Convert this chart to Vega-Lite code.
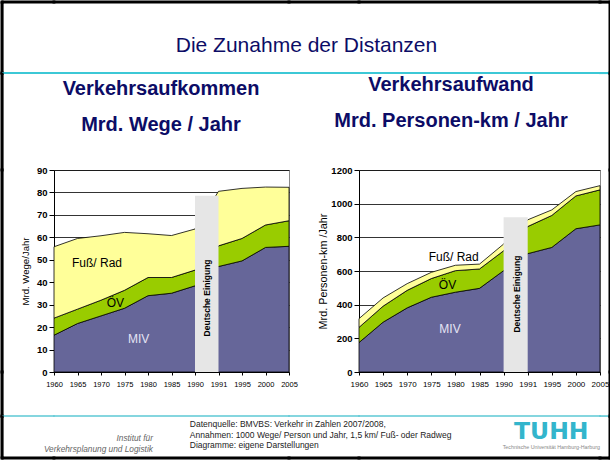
{
  "$schema": "https://vega.github.io/schema/vega-lite/v6.json",
  "padding": 0,
  "background": "white",
  "bounds": "flush",
  "align": "each",
  "columns": 7,
  "spacing": {"row": 0, "column": 0},
  "config": {
    "font": "Liberation Sans",
    "view": {"stroke": "#888888", "strokeWidth": 1},
    "axis": {"domainColor": "black", "tickColor": "black", "labelColor": "black", "titleColor": "black", "gridColor": "black", "gridWidth": 0.8, "domainWidth": 1, "labelOverlap": false}
  },
  "datasets": {
    "wege": [
      {"year": "1960", "series": "MIV", "rank": 1, "value": 16.4},
      {"year": "1960", "series": "ÖV", "rank": 2, "value": 7.6},
      {"year": "1960", "series": "Fuß/ Rad", "rank": 3, "value": 31.8},
      {"year": "1965", "series": "MIV", "rank": 1, "value": 21.6},
      {"year": "1965", "series": "ÖV", "rank": 2, "value": 6.4},
      {"year": "1965", "series": "Fuß/ Rad", "rank": 3, "value": 31.5},
      {"year": "1970", "series": "MIV", "rank": 1, "value": 25.0},
      {"year": "1970", "series": "ÖV", "rank": 2, "value": 7.0},
      {"year": "1970", "series": "Fuß/ Rad", "rank": 3, "value": 28.7},
      {"year": "1975", "series": "MIV", "rank": 1, "value": 28.4},
      {"year": "1975", "series": "ÖV", "rank": 2, "value": 8.0},
      {"year": "1975", "series": "Fuß/ Rad", "rank": 3, "value": 25.8},
      {"year": "1980", "series": "MIV", "rank": 1, "value": 34.0},
      {"year": "1980", "series": "ÖV", "rank": 2, "value": 8.1},
      {"year": "1980", "series": "Fuß/ Rad", "rank": 3, "value": 19.5},
      {"year": "1985", "series": "MIV", "rank": 1, "value": 35.1},
      {"year": "1985", "series": "ÖV", "rank": 2, "value": 7.0},
      {"year": "1985", "series": "Fuß/ Rad", "rank": 3, "value": 18.7},
      {"year": "1990", "series": "MIV", "rank": 1, "value": 38.4},
      {"year": "1990", "series": "ÖV", "rank": 2, "value": 7.0},
      {"year": "1990", "series": "Fuß/ Rad", "rank": 3, "value": 18.3},
      {"year": "1991", "series": "MIV", "rank": 1, "value": 47.0},
      {"year": "1991", "series": "ÖV", "rank": 2, "value": 9.2},
      {"year": "1991", "series": "Fuß/ Rad", "rank": 3, "value": 24.3},
      {"year": "1995", "series": "MIV", "rank": 1, "value": 49.5},
      {"year": "1995", "series": "ÖV", "rank": 2, "value": 10.0},
      {"year": "1995", "series": "Fuß/ Rad", "rank": 3, "value": 22.3},
      {"year": "2000", "series": "MIV", "rank": 1, "value": 55.5},
      {"year": "2000", "series": "ÖV", "rank": 2, "value": 10.0},
      {"year": "2000", "series": "Fuß/ Rad", "rank": 3, "value": 16.9},
      {"year": "2005", "series": "MIV", "rank": 1, "value": 56.0},
      {"year": "2005", "series": "ÖV", "rank": 2, "value": 11.4},
      {"year": "2005", "series": "Fuß/ Rad", "rank": 3, "value": 14.9}
    ],
    "pkm": [
      {"year": "1960", "series": "MIV", "rank": 1, "value": 175},
      {"year": "1960", "series": "ÖV", "rank": 2, "value": 90},
      {"year": "1960", "series": "Fuß/ Rad", "rank": 3, "value": 52},
      {"year": "1965", "series": "MIV", "rank": 1, "value": 296},
      {"year": "1965", "series": "ÖV", "rank": 2, "value": 95},
      {"year": "1965", "series": "Fuß/ Rad", "rank": 3, "value": 49},
      {"year": "1970", "series": "MIV", "rank": 1, "value": 381},
      {"year": "1970", "series": "ÖV", "rank": 2, "value": 104},
      {"year": "1970", "series": "Fuß/ Rad", "rank": 3, "value": 40},
      {"year": "1975", "series": "MIV", "rank": 1, "value": 444},
      {"year": "1975", "series": "ÖV", "rank": 2, "value": 111},
      {"year": "1975", "series": "Fuß/ Rad", "rank": 3, "value": 37},
      {"year": "1980", "series": "MIV", "rank": 1, "value": 474},
      {"year": "1980", "series": "ÖV", "rank": 2, "value": 128},
      {"year": "1980", "series": "Fuß/ Rad", "rank": 3, "value": 32},
      {"year": "1985", "series": "MIV", "rank": 1, "value": 497},
      {"year": "1985", "series": "ÖV", "rank": 2, "value": 115},
      {"year": "1985", "series": "Fuß/ Rad", "rank": 3, "value": 29},
      {"year": "1990", "series": "MIV", "rank": 1, "value": 602},
      {"year": "1990", "series": "ÖV", "rank": 2, "value": 118},
      {"year": "1990", "series": "Fuß/ Rad", "rank": 3, "value": 40},
      {"year": "1991", "series": "MIV", "rank": 1, "value": 703},
      {"year": "1991", "series": "ÖV", "rank": 2, "value": 161},
      {"year": "1991", "series": "Fuß/ Rad", "rank": 3, "value": 40},
      {"year": "1995", "series": "MIV", "rank": 1, "value": 740},
      {"year": "1995", "series": "ÖV", "rank": 2, "value": 190},
      {"year": "1995", "series": "Fuß/ Rad", "rank": 3, "value": 33},
      {"year": "2000", "series": "MIV", "rank": 1, "value": 851},
      {"year": "2000", "series": "ÖV", "rank": 2, "value": 195},
      {"year": "2000", "series": "Fuß/ Rad", "rank": 3, "value": 26},
      {"year": "2005", "series": "MIV", "rank": 1, "value": 874},
      {"year": "2005", "series": "ÖV", "rank": 2, "value": 208},
      {"year": "2005", "series": "Fuß/ Rad", "rank": 3, "value": 25}
    ]
  },
  "concat": [
    {"width": 0.1, "height": 0.1, "view": {"stroke": "black", "strokeWidth": 3}, "data": {"values": []}, "mark": "text"},
    {"width": 50.9, "height": 0.1, "view": {"stroke": "black", "strokeWidth": 3}, "data": {"values": []}, "mark": "text"},
    {"width": 235, "height": 0.1, "view": {"stroke": "black", "strokeWidth": 3}, "data": {"values": []}, "mark": "text"},
    {"width": 70, "height": 0.1, "view": {"stroke": "black", "strokeWidth": 3}, "data": {"values": []}, "mark": "text"},
    {"width": 241, "height": 0.1, "view": {"stroke": "black", "strokeWidth": 3}, "data": {"values": []}, "mark": "text"},
    {"width": 9.4, "height": 0.1, "view": {"stroke": "black", "strokeWidth": 3}, "data": {"values": []}, "mark": "text"},
    {"width": 0.1, "height": 0.1, "view": {"stroke": "black", "strokeWidth": 3}, "data": {"values": []}, "mark": "text"},

    {"width": 0.1, "height": 69.9, "view": {"stroke": "black", "strokeWidth": 3}, "data": {"values": []}, "mark": "text"},
    {"width": 50.9, "height": 69.9, "view": {"stroke": null}, "data": {"values": []}, "mark": "text"},
    {"width": 235, "height": 69.9, "view": {"stroke": null}, "data": {"values": []}, "mark": "text"},
    {"width": 70, "height": 69.9, "view": {"stroke": null}, "data": {"values": []}, "mark": "text",
      "title": {"text": "Die Zunahme der Distanzen", "orient": "bottom", "anchor": "middle", "frame": "group", "dx": -17.5, "offset": -37.8, "baseline": "top", "font": "Liberation Sans", "fontSize": 21, "fontWeight": "normal", "color": "#0c0c66"}},
    {"width": 241, "height": 69.9, "view": {"stroke": null}, "data": {"values": []}, "mark": "text"},
    {"width": 9.4, "height": 69.9, "view": {"stroke": null}, "data": {"values": []}, "mark": "text"},
    {"width": 0.1, "height": 69.9, "view": {"stroke": "black", "strokeWidth": 3}, "data": {"values": []}, "mark": "text"},

    {"width": 0.1, "height": 0.1, "view": {"stroke": "black", "strokeWidth": 3}, "data": {"values": []}, "mark": "text"},
    {"width": 50.9, "height": 0.1, "view": {"stroke": "#3cc8d6", "strokeWidth": 2}, "data": {"values": []}, "mark": "text"},
    {"width": 235, "height": 0.1, "view": {"stroke": "#3cc8d6", "strokeWidth": 2}, "data": {"values": []}, "mark": "text"},
    {"width": 70, "height": 0.1, "view": {"stroke": "#3cc8d6", "strokeWidth": 2}, "data": {"values": []}, "mark": "text"},
    {"width": 241, "height": 0.1, "view": {"stroke": "#3cc8d6", "strokeWidth": 2}, "data": {"values": []}, "mark": "text"},
    {"width": 9.4, "height": 0.1, "view": {"stroke": "#3cc8d6", "strokeWidth": 2}, "data": {"values": []}, "mark": "text"},
    {"width": 0.1, "height": 0.1, "view": {"stroke": "black", "strokeWidth": 3}, "data": {"values": []}, "mark": "text"},

    {"width": 0.1, "height": 95.9, "view": {"stroke": "black", "strokeWidth": 3}, "data": {"values": []}, "mark": "text"},
    {"width": 50.9, "height": 95.9, "view": {"stroke": null}, "data": {"values": []}, "mark": "text"},
    {"width": 235, "height": 95.9, "view": {"stroke": null}, "data": {"values": []}, "mark": "text"},
    {"width": 70, "height": 95.9, "view": {"stroke": null}, "data": {"values": []}, "mark": "text"},
    {"width": 241, "height": 95.9, "view": {"stroke": null}, "data": {"values": []}, "mark": "text"},
    {"width": 9.4, "height": 95.9, "view": {"stroke": null}, "data": {"values": []}, "mark": "text"},
    {"width": 0.1, "height": 95.9, "view": {"stroke": "black", "strokeWidth": 3}, "data": {"values": []}, "mark": "text"},

    {"width": 0.1, "height": 202, "view": {"stroke": "black", "strokeWidth": 3}, "data": {"values": []}, "mark": "text"},
    {"width": 50.9, "height": 202, "view": {"stroke": null}, "data": {"values": []}, "mark": "text"},
    {
      "width": 235,
      "height": 202,
      "title": {"text": ["Verkehrsaufkommen", "Mrd. Wege / Jahr"], "fontSize": 20, "fontWeight": "bold", "color": "#0c0c66", "anchor": "middle", "frame": "group", "dx": -10.5, "lineHeight": 36.3, "baseline": "bottom", "offset": 10.2},
      "layer": [
        {
          "data": {"name": "wege"},
          "mark": {"type": "area", "stroke": "black", "strokeWidth": 0.8, "opacity": 1},
          "encoding": {
            "x": {"field": "year", "type": "ordinal", "scale": {"type": "point", "padding": 0},
              "axis": {"title": null, "labelAngle": 0, "labelFontSize": 7.5, "tickSize": 3, "labelPadding": 5, "grid": false}},
            "y": {"field": "value", "type": "quantitative", "stack": "zero", "scale": {"domain": [0, 90], "nice": false},
              "axis": {"values": [0, 10, 20, 30, 40, 50, 60, 70, 80, 90], "tickCount": 10, "title": "Mrd. Wege/Jahr", "titleFontSize": 9.6, "titleFontWeight": "normal", "titlePadding": 5.5, "labelFontSize": 9.5, "labelFontWeight": "bold", "labelPadding": 2, "tickSize": 5, "grid": true}},
            "color": {"field": "series", "type": "nominal", "scale": {"domain": ["MIV", "ÖV", "Fuß/ Rad"], "range": ["#666699", "#99cc00", "#ffff99"]}, "legend": null},
            "order": {"field": "rank", "type": "quantitative"}
          }
        },
        {
          "data": {"values": [{"from": "1990", "to": "1991", "base": 0, "top": 78.5, "mid": 33, "label": "Deutsche Einigung"}]},
          "layer": [
            {
              "mark": {"type": "rect", "color": "#e6e6e6"},
              "encoding": {"x": {"field": "from", "type": "ordinal"}, "x2": {"field": "to"}, "y": {"field": "base", "type": "quantitative"}, "y2": {"field": "top"}}
            },
            {
              "mark": {"type": "text", "angle": 270, "fontSize": 8.5, "fontWeight": "bold", "color": "black", "align": "center", "baseline": "middle", "dy": 11.75},
              "encoding": {"x": {"field": "from", "type": "ordinal"}, "y": {"field": "mid", "type": "quantitative"}, "text": {"field": "label"}}
            }
          ]
        },
        {
          "data": {"values": [{"year": "1970", "value": 48.6, "label": "Fuß/ Rad"}]},
          "mark": {"type": "text", "fontSize": 12, "color": "black", "align": "center", "baseline": "middle", "dx": -4},
          "encoding": {"x": {"field": "year", "type": "ordinal"}, "y": {"field": "value", "type": "quantitative"}, "text": {"field": "label"}}
        },
        {
          "data": {"values": [{"year": "1970", "value": 30.7, "label": "ÖV"}]},
          "mark": {"type": "text", "fontSize": 12, "color": "black", "align": "center", "baseline": "middle", "dx": 14.3},
          "encoding": {"x": {"field": "year", "type": "ordinal"}, "y": {"field": "value", "type": "quantitative"}, "text": {"field": "label"}}
        },
        {
          "data": {"values": [{"year": "1975", "value": 14.7, "label": "MIV"}]},
          "mark": {"type": "text", "fontSize": 12, "color": "#e4e4f4", "align": "center", "baseline": "middle", "dx": 14.2},
          "encoding": {"x": {"field": "year", "type": "ordinal"}, "y": {"field": "value", "type": "quantitative"}, "text": {"field": "label"}}
        }
      ]
    },
    {"width": 70, "height": 202, "view": {"stroke": null}, "data": {"values": []}, "mark": "text"},
    {
      "width": 241,
      "height": 202,
      "title": {"text": ["Verkehrsaufwand", "Mrd. Personen-km / Jahr"], "fontSize": 20, "fontWeight": "bold", "color": "#0c0c66", "anchor": "middle", "frame": "group", "dx": -28.5, "lineHeight": 36.6, "baseline": "bottom", "offset": 13.8},
      "layer": [
        {
          "data": {"name": "pkm"},
          "mark": {"type": "area", "stroke": "black", "strokeWidth": 0.8, "opacity": 1},
          "encoding": {
            "x": {"field": "year", "type": "ordinal", "scale": {"type": "point", "padding": 0},
              "axis": {"title": null, "labelAngle": 0, "labelFontSize": 8, "tickSize": 3, "labelPadding": 5, "grid": false}},
            "y": {"field": "value", "type": "quantitative", "stack": "zero", "scale": {"domain": [0, 1200], "nice": false},
              "axis": {"values": [0, 200, 400, 600, 800, 1000, 1200], "tickCount": 7, "format": "d", "title": "Mrd. Personen-km /Jahr", "titleFontSize": 10.8, "titleFontWeight": "normal", "titlePadding": 2, "labelFontSize": 9.5, "labelFontWeight": "bold", "labelPadding": 2, "tickSize": 5, "grid": true}},
            "color": {"field": "series", "type": "nominal", "scale": {"domain": ["MIV", "ÖV", "Fuß/ Rad"], "range": ["#666699", "#99cc00", "#ffff99"]}, "legend": null},
            "order": {"field": "rank", "type": "quantitative"}
          }
        },
        {
          "data": {"values": [{"from": "1990", "to": "1991", "base": 0, "top": 920, "mid": 463, "label": "Deutsche Einigung"}]},
          "layer": [
            {
              "mark": {"type": "rect", "color": "#e6e6e6"},
              "encoding": {"x": {"field": "from", "type": "ordinal"}, "x2": {"field": "to"}, "y": {"field": "base", "type": "quantitative"}, "y2": {"field": "top"}}
            },
            {
              "mark": {"type": "text", "angle": 270, "fontSize": 8.5, "fontWeight": "bold", "color": "black", "align": "center", "baseline": "middle", "dy": 13.5},
              "encoding": {"x": {"field": "from", "type": "ordinal"}, "y": {"field": "mid", "type": "quantitative"}, "text": {"field": "label"}}
            }
          ]
        },
        {
          "data": {"values": [{"year": "1980", "value": 681, "label": "Fuß/ Rad"}]},
          "mark": {"type": "text", "fontSize": 12, "color": "black", "align": "center", "baseline": "middle", "dx": -1.7},
          "encoding": {"x": {"field": "year", "type": "ordinal"}, "y": {"field": "value", "type": "quantitative"}, "text": {"field": "label"}}
        },
        {
          "data": {"values": [{"year": "1980", "value": 517, "label": "ÖV"}]},
          "mark": {"type": "text", "fontSize": 12, "color": "black", "align": "center", "baseline": "middle", "dx": -7.9},
          "encoding": {"x": {"field": "year", "type": "ordinal"}, "y": {"field": "value", "type": "quantitative"}, "text": {"field": "label"}}
        },
        {
          "data": {"values": [{"year": "1980", "value": 255, "label": "MIV"}]},
          "mark": {"type": "text", "fontSize": 12, "color": "#e4e4f4", "align": "center", "baseline": "middle", "dx": -5.4},
          "encoding": {"x": {"field": "year", "type": "ordinal"}, "y": {"field": "value", "type": "quantitative"}, "text": {"field": "label"}}
        }
      ]
    },
    {"width": 9.4, "height": 202, "view": {"stroke": null}, "data": {"values": []}, "mark": "text"},
    {"width": 0.1, "height": 202, "view": {"stroke": "black", "strokeWidth": 3}, "data": {"values": []}, "mark": "text"},

    {"width": 0.1, "height": 44, "view": {"stroke": "black", "strokeWidth": 3}, "data": {"values": []}, "mark": "text"},
    {"width": 50.9, "height": 44, "view": {"stroke": null}, "data": {"values": []}, "mark": "text"},
    {"width": 235, "height": 44, "view": {"stroke": null}, "data": {"values": []}, "mark": "text"},
    {"width": 70, "height": 44, "view": {"stroke": null}, "data": {"values": []}, "mark": "text"},
    {"width": 241, "height": 44, "view": {"stroke": null}, "data": {"values": []}, "mark": "text"},
    {"width": 9.4, "height": 44, "view": {"stroke": null}, "data": {"values": []}, "mark": "text"},
    {"width": 0.1, "height": 44, "view": {"stroke": "black", "strokeWidth": 3}, "data": {"values": []}, "mark": "text"},

    {"width": 0.1, "height": 0.1, "view": {"stroke": "black", "strokeWidth": 3}, "data": {"values": []}, "mark": "text"},
    {
      "width": 50.9, "height": 0.1, "view": {"stroke": "#5cc8d4", "strokeWidth": 1.5}, "data": {"values": []}, "mark": "text",
      "title": {"text": ["Institut für", "Verkehrsplanung und Logistik"], "orient": "bottom", "anchor": "end", "frame": "group", "dx": 99, "baseline": "top", "offset": 17.6, "fontSize": 8.3, "fontStyle": "italic", "fontWeight": "normal", "color": "#666666", "lineHeight": 11}
    },
    {
      "width": 235, "height": 0.1, "view": {"stroke": "#5cc8d4", "strokeWidth": 1.5}, "data": {"values": []}, "mark": "text",
      "title": {"text": ["Datenquelle: BMVBS: Verkehr in Zahlen 2007/2008,", "Annahmen: 1000 Wege/ Person und Jahr, 1,5 km/ Fuß- oder Radweg", "Diagramme: eigene Darstellungen"], "orient": "bottom", "anchor": "start", "frame": "group", "dx": 135.8, "baseline": "top", "offset": 4.3, "fontSize": 8.5, "fontWeight": "normal", "color": "#222222", "lineHeight": 10.4}
    },
    {"width": 70, "height": 0.1, "view": {"stroke": "#5cc8d4", "strokeWidth": 1.5}, "data": {"values": []}, "mark": "text"},
    {
      "width": 241, "height": 0.1, "view": {"stroke": "#5cc8d4", "strokeWidth": 1.5}, "data": {"values": []}, "mark": "text",
      "title": {"text": "TUHH", "subtitle": "Technische Universität Hamburg-Harburg", "orient": "bottom", "anchor": "middle", "frame": "group", "dx": 71.8, "baseline": "top", "offset": 4.3, "font": "DejaVu Sans", "fontSize": 23.5, "fontWeight": "bold", "color": "#33b5cc", "subtitleFontSize": 5.3, "subtitleColor": "#888888", "subtitlePadding": 1.5, "subtitleFont": "Liberation Sans"}
    },
    {"width": 9.4, "height": 0.1, "view": {"stroke": "#5cc8d4", "strokeWidth": 1.5}, "data": {"values": []}, "mark": "text"},
    {"width": 0.1, "height": 0.1, "view": {"stroke": "black", "strokeWidth": 3}, "data": {"values": []}, "mark": "text"},

    {"width": 0.1, "height": 40.1, "view": {"stroke": "black", "strokeWidth": 3}, "data": {"values": []}, "mark": "text"},
    {"width": 50.9, "height": 40.1, "view": {"stroke": null}, "data": {"values": []}, "mark": "text"},
    {"width": 235, "height": 40.1, "view": {"stroke": null}, "data": {"values": []}, "mark": "text"},
    {"width": 70, "height": 40.1, "view": {"stroke": null}, "data": {"values": []}, "mark": "text"},
    {"width": 241, "height": 40.1, "view": {"stroke": null}, "data": {"values": []}, "mark": "text"},
    {"width": 9.4, "height": 40.1, "view": {"stroke": null}, "data": {"values": []}, "mark": "text"},
    {"width": 0.1, "height": 40.1, "view": {"stroke": "black", "strokeWidth": 3}, "data": {"values": []}, "mark": "text"},

    {"width": 0.1, "height": 0.1, "view": {"stroke": "black", "strokeWidth": 3}, "data": {"values": []}, "mark": "text"},
    {"width": 50.9, "height": 0.1, "view": {"stroke": "black", "strokeWidth": 3}, "data": {"values": []}, "mark": "text"},
    {"width": 235, "height": 0.1, "view": {"stroke": "black", "strokeWidth": 3}, "data": {"values": []}, "mark": "text"},
    {"width": 70, "height": 0.1, "view": {"stroke": "black", "strokeWidth": 3}, "data": {"values": []}, "mark": "text"},
    {"width": 241, "height": 0.1, "view": {"stroke": "black", "strokeWidth": 3}, "data": {"values": []}, "mark": "text"},
    {"width": 9.4, "height": 0.1, "view": {"stroke": "black", "strokeWidth": 3}, "data": {"values": []}, "mark": "text"},
    {"width": 0.1, "height": 0.1, "view": {"stroke": "black", "strokeWidth": 3}, "data": {"values": []}, "mark": "text"}
  ]
}
